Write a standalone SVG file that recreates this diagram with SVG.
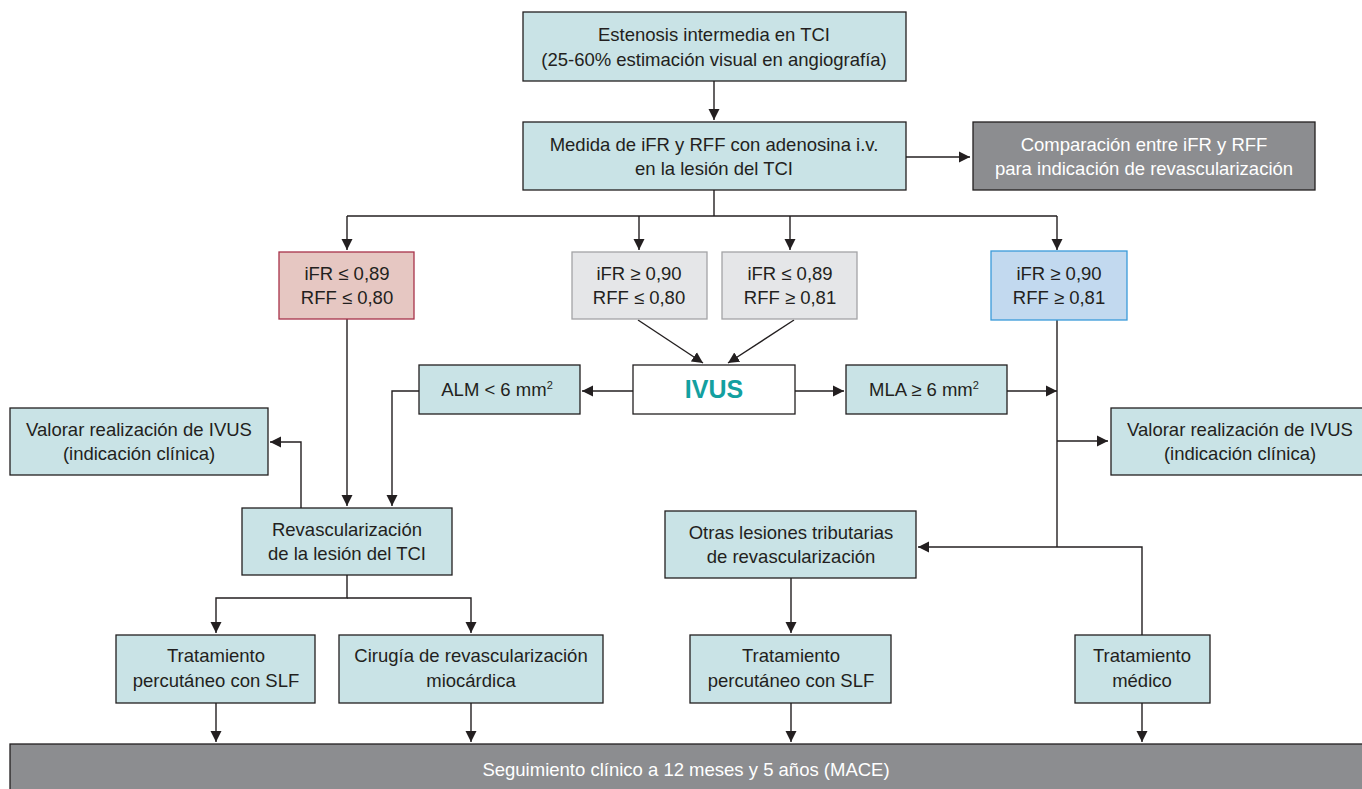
<svg xmlns="http://www.w3.org/2000/svg" width="1362" height="789" viewBox="0 0 1362 789">
<style>
text{font-family:"Liberation Sans",Arial,sans-serif;font-size:18.5px;fill:#231f20;text-anchor:middle}
.t{fill:#c9e3e6;stroke:#231f20;stroke-width:1.3}
.dk{fill:#8c8d90;stroke:#231f20;stroke-width:1.3}
.w{fill:#ffffff}
.red{fill:#e6c7c2;stroke:#a8334a;stroke-width:1.3}
.gr{fill:#e5e6e8;stroke:#a3a4a6;stroke-width:1.3}
.bl{fill:#c2d9ef;stroke:#3a9ad9;stroke-width:1.3}
.wh{fill:#ffffff;stroke:#231f20;stroke-width:1.3}
.c{fill:none;stroke:#231f20;stroke-width:1.4}
.sup{font-size:11px}
</style>
<defs>
<marker id="a" markerWidth="12" markerHeight="12" refX="11" refY="6" orient="auto" markerUnits="userSpaceOnUse">
<path d="M0,0.5 L11,6 L0,11.5 Z" fill="#231f20"/>
</marker>
</defs>
<rect width="1362" height="789" fill="#ffffff"/>
<g id="connectors">
<path class="c" d="M714,81 V120" marker-end="url(#a)"/>
<path class="c" d="M906,157 H970" marker-end="url(#a)"/>
<path class="c" d="M714,190 V216"/>
<path class="c" d="M347,216 H1057"/>
<path class="c" d="M347,216 V250" marker-end="url(#a)"/>
<path class="c" d="M639,216 V250" marker-end="url(#a)"/>
<path class="c" d="M790,216 V250" marker-end="url(#a)"/>
<path class="c" d="M1057,216 V250" marker-end="url(#a)"/>
<path class="c" d="M638,320 L703,363" marker-end="url(#a)"/>
<path class="c" d="M794,320 L728,363" marker-end="url(#a)"/>
<path class="c" d="M633,391 H582" marker-end="url(#a)"/>
<path class="c" d="M795,391 H844" marker-end="url(#a)"/>
<path class="c" d="M1007,391 H1057" marker-end="url(#a)"/>
<path class="c" d="M1057,320 V547"/>
<path class="c" d="M1057,441 H1108" marker-end="url(#a)"/>
<path class="c" d="M1057,547 H918" marker-end="url(#a)"/>
<path class="c" d="M1057,547 H1142 V635"/>
<path class="c" d="M347,319 V506" marker-end="url(#a)"/>
<path class="c" d="M419,391 H392 V506" marker-end="url(#a)"/>
<path class="c" d="M301,508 V442 H270" marker-end="url(#a)"/>
<path class="c" d="M347,575 V598 H216 V633" marker-end="url(#a)"/>
<path class="c" d="M347,598 H471 V633" marker-end="url(#a)"/>
<path class="c" d="M791,578 V633" marker-end="url(#a)"/>
<path class="c" d="M216,703 V742" marker-end="url(#a)"/>
<path class="c" d="M471,703 V742" marker-end="url(#a)"/>
<path class="c" d="M791,703 V742" marker-end="url(#a)"/>
<path class="c" d="M1142,703 V742" marker-end="url(#a)"/>
</g>
<g id="n1"><rect class="t" x="523" y="12" width="383" height="69"/><text x="714" y="41">Estenosis intermedia en TCI</text><text x="714" y="66">(25-60% estimación visual en angiografía)</text></g>
<g id="n2"><rect class="t" x="523" y="122" width="383" height="68"/><text x="714" y="151">Medida de iFR y RFF con adenosina i.v.</text><text x="714" y="175">en la lesión del TCI</text></g>
<g id="n3"><rect class="dk" x="973" y="122" width="342" height="68"/><text class="w" x="1144" y="151">Comparación entre iFR y RFF</text><text class="w" x="1144" y="175">para indicación de revascularización</text></g>
<g id="n4"><rect class="red" x="279" y="252" width="135" height="67"/><text x="347" y="280">iFR ≤ 0,89</text><text x="347" y="304">RFF ≤ 0,80</text></g>
<g id="n5"><rect class="gr" x="572" y="252" width="135" height="67"/><text x="639" y="280">iFR ≥ 0,90</text><text x="639" y="304">RFF ≤ 0,80</text></g>
<g id="n6"><rect class="gr" x="722" y="252" width="135" height="67"/><text x="790" y="280">iFR ≤ 0,89</text><text x="790" y="304">RFF ≥ 0,81</text></g>
<g id="n7"><rect class="bl" x="991" y="251" width="136" height="69"/><text x="1059" y="280">iFR ≥ 0,90</text><text x="1059" y="304">RFF ≥ 0,81</text></g>
<g id="n8"><rect class="wh" x="633" y="365" width="162" height="49"/><text x="714" y="398" style="font-size:25px;font-weight:bold;fill:#13a0a0">IVUS</text></g>
<g id="n9"><rect class="t" x="419" y="365" width="161" height="49"/><text x="497" y="396">ALM &lt; 6 mm<tspan class="sup" dy="-7">2</tspan></text></g>
<g id="n10"><rect class="t" x="846" y="365" width="161" height="49"/><text x="924" y="396">MLA ≥ 6 mm<tspan class="sup" dy="-7">2</tspan></text></g>
<g id="n11"><rect class="t" x="10" y="408" width="258" height="67"/><text x="139" y="436">Valorar realización de IVUS</text><text x="139" y="460">(indicación clínica)</text></g>
<g id="n12"><rect class="t" x="1111" y="408" width="258" height="67"/><text x="1240" y="436">Valorar realización de IVUS</text><text x="1240" y="460">(indicación clínica)</text></g>
<g id="n13"><rect class="t" x="242" y="508" width="210" height="67"/><text x="347" y="536">Revascularización</text><text x="347" y="560">de la lesión del TCI</text></g>
<g id="n14"><rect class="t" x="665" y="511" width="251" height="67"/><text x="791" y="539">Otras lesiones tributarias</text><text x="791" y="563">de revascularización</text></g>
<g id="n15"><rect class="t" x="116" y="635" width="199" height="68"/><text x="216" y="662">Tratamiento</text><text x="216" y="687">percutáneo con SLF</text></g>
<g id="n16"><rect class="t" x="339" y="635" width="264" height="68"/><text x="471" y="662">Cirugía de revascularización</text><text x="471" y="687">miocárdica</text></g>
<g id="n17"><rect class="t" x="690" y="635" width="201" height="68"/><text x="791" y="662">Tratamiento</text><text x="791" y="687">percutáneo con SLF</text></g>
<g id="n18"><rect class="t" x="1075" y="635" width="135" height="68"/><text x="1142" y="662">Tratamiento</text><text x="1142" y="687">médico</text></g>
<g id="n19"><rect class="dk" x="10" y="744" width="1360" height="50"/><text class="w" x="686" y="776">Seguimiento clínico a 12 meses y 5 años (MACE)</text></g>
</svg>
